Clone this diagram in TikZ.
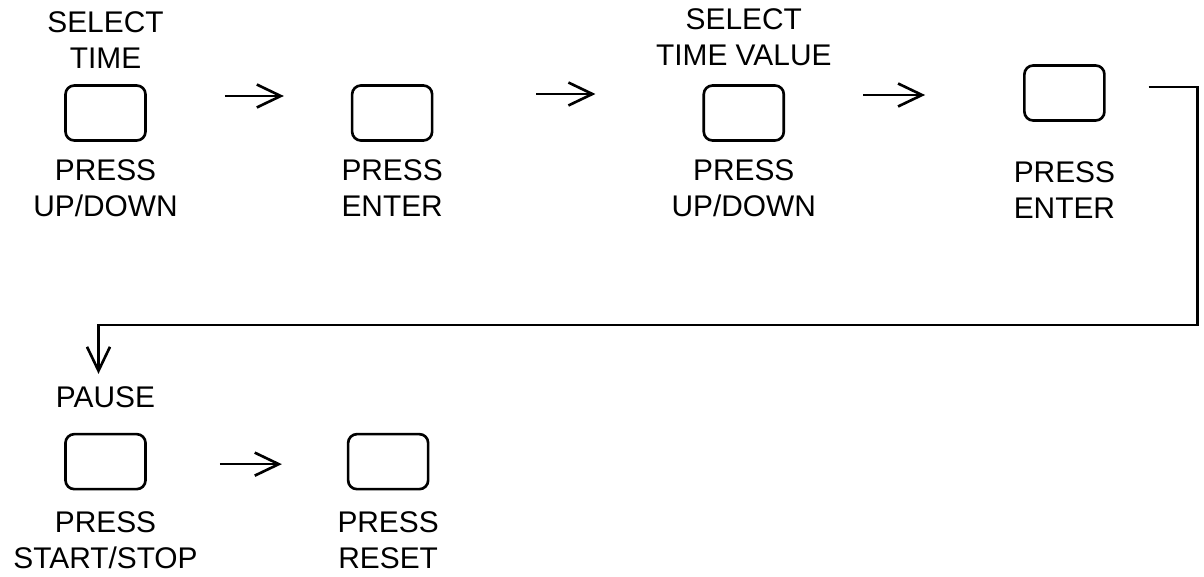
\documentclass[tikz,border=0pt]{standalone}
\usepackage{fontspec}
\setmainfont{Liberation Sans}
\usetikzlibrary{arrows.meta, positioning}

\begin{document}
\begin{tikzpicture}[
    node distance=0.36cm and 4.1cm,
    button/.style={rectangle, rounded corners=5pt, draw=black, line width=1.5pt, minimum width=1.6cm, minimum height=1.1cm},
    caption/.style={align=center, inner sep=0pt, font=\fontsize{17}{20.5}\selectfont},
    arrow/.style={-{Straight Barb[length=4.8mm, width=4.6mm]}, line width=1.5pt}
]
    \useasboundingbox (0,0) rectangle (24.08,-11.52);
    \node (b1) [button] at (2.11,-2.26) {};
    \node (b2) [button, right=4.08cm of b1] {};
    \node (b3) [button, right=5.38cm of b2] {};
    \node (b4) [button, right=4.76cm of b3, yshift=0.4cm] {};
    \node (b5) [button, below=5.82cm of b1] {};
    \node (b6) [button, right=4.0cm of b5] {};

    \node (t1) [caption, above=0.3cm of b1] {SELECT\\TIME};
    \node (p1) [caption, below=0.34cm of b1] {PRESS\\UP/DOWN};
    \node (p2) [caption, below=0.34cm of b2] {PRESS\\ENTER};
    \node (t3) [caption, above=0.36cm of b3] {SELECT\\TIME VALUE};
    \node (p3) [caption, below=0.34cm of b3] {PRESS\\UP/DOWN};
    \node (p4) [caption, below=0.78cm of b4] {PRESS\\ENTER};
    \node (t5) [caption, above=0.5cm of b5] {PAUSE};
    \node (p5) [caption, below=0.42cm of b5] {PRESS\\START/STOP};
    \node (p6) [caption, below=0.42cm of b6] {PRESS\\RESET};

    \draw [arrow, shorten <=1.56cm, shorten >=1.34cm] ([yshift=0.34cm]b1.east) -- ([yshift=0.34cm]b1.east -| b2.west);
    \draw [arrow, shorten <=2.06cm, shorten >=2.14cm] ([yshift=0.38cm]b2.east) -- ([yshift=0.38cm]b2.east -| b3.west);
    \draw [arrow, shorten <=1.56cm, shorten >=1.96cm] ([yshift=0.36cm]b3.east) -- ([yshift=0.36cm]b3.east -| b4.west);
    \draw [arrow, shorten <=1.46cm, shorten >=1.3cm] ([yshift=-0.05cm]b5.east) -- ([yshift=-0.05cm]b5.east -| b6.west);
    \draw [arrow, shorten >=1.18cm] ([xshift=0.86cm, yshift=0.12cm]b4.east) -- ++(0.98cm,0) -- ++(0,-4.76cm) -| ([xshift=-0.14cm]b5.north);
\end{tikzpicture}
\end{document}
